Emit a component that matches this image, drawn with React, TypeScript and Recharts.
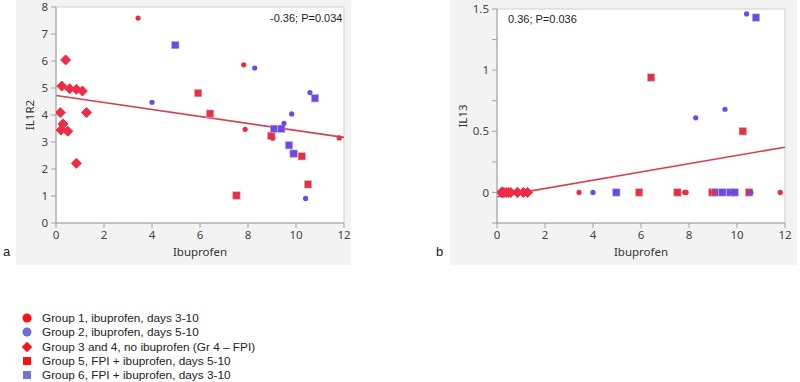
import { ReferenceArea, ReferenceLine, Scatter, ScatterChart, XAxis, YAxis } from "recharts";

// ibuprofen (x) with IL1R2 and IL13 per group
const G1_IBU = [3.42, 7.82, 7.88, 9.03, 11.8];
const G1_IL1R2 = [7.59, 5.86, 3.47, 3.14, 3.15];
const G1_IL13 = [0, 0, 0, 0, 0];

const G2_IBU = [4.0, 8.28, 10.58, 9.82, 9.5, 10.4];
const G2_IL1R2 = [4.47, 5.74, 4.83, 4.04, 3.69, 0.91];
const G2_IL13 = [0, 0.61, 0, 0, 0.68, 1.46];

const G34_IBU = [0.4, 0.24, 0.57, 0.85, 1.1, 0.18, 1.27, 0.29, 0.21, 0.49, 0.85];
const G34_IL1R2 = [6.04, 5.07, 4.97, 4.95, 4.89, 4.09, 4.09, 3.67, 3.44, 3.4, 2.21];
const G34_IL13 = [0, 0, 0, 0, 0, 0, 0, 0, 0, 0, 0];

const G5_IBU = [5.92, 6.42, 8.97, 10.24, 10.5, 7.52];
const G5_IL1R2 = [4.81, 4.05, 3.23, 2.47, 1.43, 1.02];
const G5_IL13 = [0, 0.94, 0, 0.5, 0, 0];

const G6_IBU = [4.97, 10.79, 9.08, 9.39, 9.71, 9.9];
const G6_IL1R2 = [6.59, 4.62, 3.49, 3.49, 2.88, 2.57];
const G6_IL13 = [0, 1.43, 0, 0, 0, 0];

// fitted lines (endpoints at x = 0 and 12)
const FIT_X = [0, 12];
const FIT_IL1R2 = [4.72, 3.17];
const FIT_IL13 = [-0.035, 0.37];

const X_TICKS = [0, 2, 4, 6, 8, 10, 12];
const IL1R2_TICKS = [0, 1, 2, 3, 4, 5, 6, 7, 8];
const IL13_TICKS = [-0.25, 0, 0.25, 0.5, 0.75, 1, 1.25, 1.5];
const IL13_LABELED = [0, 0.5, 1, 1.5];

const STATS = ["-0.36; P=0.034", "0.36; P=0.036"];

const LEGEND = [
  { label: "Group 1, ibuprofen, days 3-10", kind: "circle", color: "#ff1010" },
  { label: "Group 2, ibuprofen, days 5-10", kind: "circle", color: "#6c6cd6" },
  { label: "Group 3 and 4, no ibuprofen (Gr 4 \u2013 FPI)", kind: "diamond", color: "#ff1010" },
  { label: "Group 5, FPI + ibuprofen, days 5-10", kind: "square", color: "#ff1010" },
  { label: "Group 6, FPI + ibuprofen, days 3-10", kind: "square", color: "#7474d8" },
];

const RED = "#ef2c46";
const PURPLE = "#7146ef";
const FIT = "#d8404f";
const AXIS = "#a0a0a0";
const TICK_FONT = { fontSize: 11.5, fill: "#444", fontFamily: "'Noto Sans', sans-serif" };

const zip = (xs: number[], ys: number[]) => xs.map((x, i) => ({ x, y: ys[i] }));

const dot = (color: string) => (p: any) => <circle cx={p.cx} cy={p.cy} r={2.6} fill={color} />;
const square = (color: string) => (p: any) => (
  <rect x={p.cx - 3.7} y={p.cy - 3.7} width={7.4} height={7.4} fill={color} stroke="#b8c0b0" strokeWidth={0.6} />
);
const diamond = (color: string) => (p: any) => (
  <polygon
    points={`${p.cx},${p.cy - 5} ${p.cx + 5},${p.cy} ${p.cx},${p.cy + 5} ${p.cx - 5},${p.cy}`}
    fill={color}
    stroke={color}
    strokeWidth={1}
    strokeLinejoin="round"
  />
);

function Panel({
  y,
  yTicks,
  yDomain,
  fitY,
  yLabel,
  labelDx,
  top,
  tickFmt,
}: {
  y: "il1r2" | "il13";
  yTicks: number[];
  yDomain: [number, number];
  fitY: number[];
  yLabel: string;
  labelDx: number;
  top: number;
  tickFmt?: (v: number) => string;
}) {
  const pick = (a: number[], b: number[]) => (y === "il1r2" ? a : b);
  return (
    <ScatterChart width={360} height={270} margin={{ top, right: 16, bottom: 7, left: 0 }}>
      <XAxis
        type="number"
        dataKey="x"
        domain={[0, 12]}
        ticks={X_TICKS}
        allowDataOverflow
        height={40}
        stroke={AXIS}
        tickSize={5}
        tickMargin={3}
        tick={TICK_FONT}
        label={{ value: "Ibuprofen", position: "insideBottom", offset: 7, style: { ...TICK_FONT, fill: "#333" } }}
      />
      <YAxis
        type="number"
        dataKey="y"
        domain={yDomain}
        ticks={yTicks}
        allowDataOverflow
        width={56}
        stroke={AXIS}
        tickSize={5}
        tickMargin={3}
        tick={TICK_FONT}
        tickFormatter={tickFmt}
        label={{ value: yLabel, angle: -90, position: "center", dx: labelDx, style: { ...TICK_FONT, fill: "#333" } }}
      />
      <ReferenceArea
        x1={0}
        x2={12}
        y1={yDomain[0]}
        y2={yDomain[1]}
        fill="#ffffff"
        fillOpacity={1}
        stroke="#cfcfcf"
        strokeWidth={1}
      />
      <ReferenceLine
        segment={[
          { x: FIT_X[0], y: fitY[0] },
          { x: FIT_X[1], y: fitY[1] },
        ]}
        stroke={FIT}
        strokeWidth={1.6}
      />
      <Scatter data={zip(G34_IBU, pick(G34_IL1R2, G34_IL13))} shape={diamond(RED)} isAnimationActive={false} />
      <Scatter data={zip(G5_IBU, pick(G5_IL1R2, G5_IL13))} shape={square(RED)} isAnimationActive={false} />
      <Scatter data={zip(G6_IBU, pick(G6_IL1R2, G6_IL13))} shape={square(PURPLE)} isAnimationActive={false} />
      <Scatter data={zip(G1_IBU, pick(G1_IL1R2, G1_IL13))} shape={dot(RED)} isAnimationActive={false} />
      <Scatter data={zip(G2_IBU, pick(G2_IL1R2, G2_IL13))} shape={dot(PURPLE)} isAnimationActive={false} />
    </ScatterChart>
  );
}

function LegendMark({ kind, color }: { kind: string; color: string }) {
  return (
    <svg width={12} height={12} style={{ display: "block" }}>
      {kind === "circle" && <circle cx={6} cy={6} r={4.5} fill={color} />}
      {kind === "square" && <rect x={2} y={2} width={8} height={8} fill={color} />}
      {kind === "diamond" && <polygon points="6,0.8 11.2,6 6,11.2 0.8,6" fill={color} />}
    </svg>
  );
}

export default function App() {
  const abs = (left: number, top: number) => ({ position: "absolute" as const, left, top });
  return (
    <div style={{ ...abs(0, 0), width: 800, height: 382, background: "#fff", fontFamily: "'Liberation Sans', Arial, sans-serif" }}>
      <div style={{ ...abs(16, 0), width: 335, height: 265, background: "#f3f3f3" }} />
      <div style={{ ...abs(450, 0), width: 347, height: 265, background: "#f3f3f3" }} />

      <div style={abs(0, 0)}>
        <Panel y="il1r2" yTicks={IL1R2_TICKS} yDomain={[0, 8]} fitY={FIT_IL1R2} yLabel="IL1R2" labelDx={2} top={7} />
      </div>
      <div style={abs(441, 0)}>
        <Panel
          y="il13"
          yTicks={IL13_TICKS}
          yDomain={[-0.25, 1.5]}
          fitY={FIT_IL13}
          yLabel="IL13"
          labelDx={-6}
          top={9}
          tickFmt={(v) => (IL13_LABELED.includes(v) ? String(v) : "")}
        />
      </div>

      <div style={{ ...abs(270, 12), fontSize: 11, color: "#222" }}>{STATS[0]}</div>
      <div style={{ ...abs(508, 13), fontSize: 11, color: "#222" }}>{STATS[1]}</div>

      <div style={{ ...abs(3, 244), fontSize: 13, color: "#222" }}>a</div>
      <div style={{ ...abs(436, 244), fontSize: 13, color: "#222" }}>b</div>

      {LEGEND.map((g, i) => (
        <div key={g.label} style={{ ...abs(21, 311 + i * 14.3), display: "flex", alignItems: "center", gap: 9 }}>
          <LegendMark kind={g.kind} color={g.color} />
          <span style={{ fontSize: 11.8, color: "#222", lineHeight: "14px" }}>{g.label}</span>
        </div>
      ))}
    </div>
  );
}
